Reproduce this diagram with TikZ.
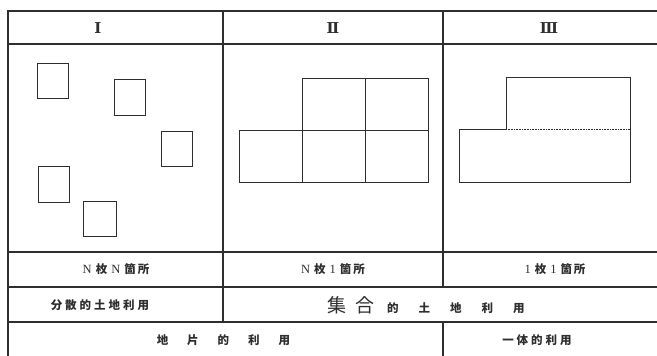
\documentclass[tikz,border=0pt]{standalone}
\usepackage{fontspec}
\setmainfont{Liberation Serif}
\newfontfamily\jp{Noto Sans CJK JP}
\newfontfamily\rn{DejaVu Serif}
\definecolor{ink}{HTML}{2E2E2E}
\newcommand\sk[1]{\hskip #1pt\relax}
\begin{document}
\begin{tikzpicture}[x=1pt,y=-1pt,
  frame/.style={line width=1.1pt, draw=ink},
  plot/.style={line width=0.9pt, draw=ink},
  lbl/.style={inner sep=0pt, text=ink, font=\jp\bfseries\fontsize{11.5}{13}\selectfont},
  num/.style={inner sep=0pt, text=ink, font=\rn\bfseries\fontsize{15}{17}\selectfont}]
\useasboundingbox (0,0) rectangle (657,356);
\fill[white] (0,0) rectangle (657,356);
% table frame
\draw[frame] (8,356) -- (8,11) -- (657,11);
\draw[frame] (8,44) -- (657,44);
\draw[frame] (8,252) -- (657,252);
\draw[frame] (8,287) -- (657,287);
\draw[frame] (8,322) -- (657,322);
\draw[frame] (223,11) -- (223,322);
\draw[frame] (443,11) -- (443,287);
\draw[frame] (443,322) -- (443,356);
% column I squares
\draw[plot] (37,63) rectangle (68,98);
\draw[plot] (114,79) rectangle (145,115);
\draw[plot] (161,131) rectangle (192,166);
\draw[plot] (38,166) rectangle (69,202);
\draw[plot] (83,201) rectangle (116,236);
% column II
\draw[plot] (302,182) -- (302,78) -- (428,78) -- (428,182) -- (239,182) -- (239,130) -- (428,130);
\draw[plot] (365,78) -- (365,182);
% column III
\draw[plot] (459,182) -- (459,129) -- (506,129) -- (506,77) -- (630,77) -- (630,182) -- cycle;
\draw[ink, line width=0.6pt, densely dotted] (506,129) -- (630,129);
% headers
\node[num] (h1) at (98,28) {Ⅰ};
\node[num] (h2) at (333,28) {Ⅱ};
\node[num] (h3) at (549,28) {Ⅲ};
% row 1
\node[lbl] (r1a) at (116,269) {{\normalfont\fontsize{12.5}{14}\selectfont N}\sk{4}枚\sk{4}{\normalfont\fontsize{12.5}{14}\selectfont N}\sk{4}箇\sk{2}所};
\node[lbl] (r1b) at (333,269) {{\normalfont\fontsize{12.5}{14}\selectfont N}\sk{4}枚\sk{4}{\normalfont\fontsize{12.5}{14}\selectfont 1}\sk{4}箇\sk{2}所};
\node[lbl] (r1c) at (555,269) {{\normalfont\fontsize{12.5}{14}\selectfont 1}\sk{4}枚\sk{4}{\normalfont\fontsize{12.5}{14}\selectfont 1}\sk{4}箇\sk{2}所};
% row 2
\node[lbl] (r2a) at (100,305) {分\sk{3}散\sk{3}的\sk{3}土\sk{3}地\sk{3}利\sk{3}用};
\node[lbl, anchor=west] (r2b) at (327,305) {{\mdseries\fontsize{19}{21}\selectfont 集\sk{9}合}\sk{13}的\sk{20}土\sk{20}地\sk{20}利\sk{20}用};
% row 3
\node[lbl] (r3a) at (223.5,340) {地\sk{19}片\sk{19}的\sk{19}利\sk{19}用};
\node[lbl] (r3b) at (537,340) {一\sk{3}体\sk{3}的\sk{3}利\sk{3}用};
\end{tikzpicture}
\end{document}
